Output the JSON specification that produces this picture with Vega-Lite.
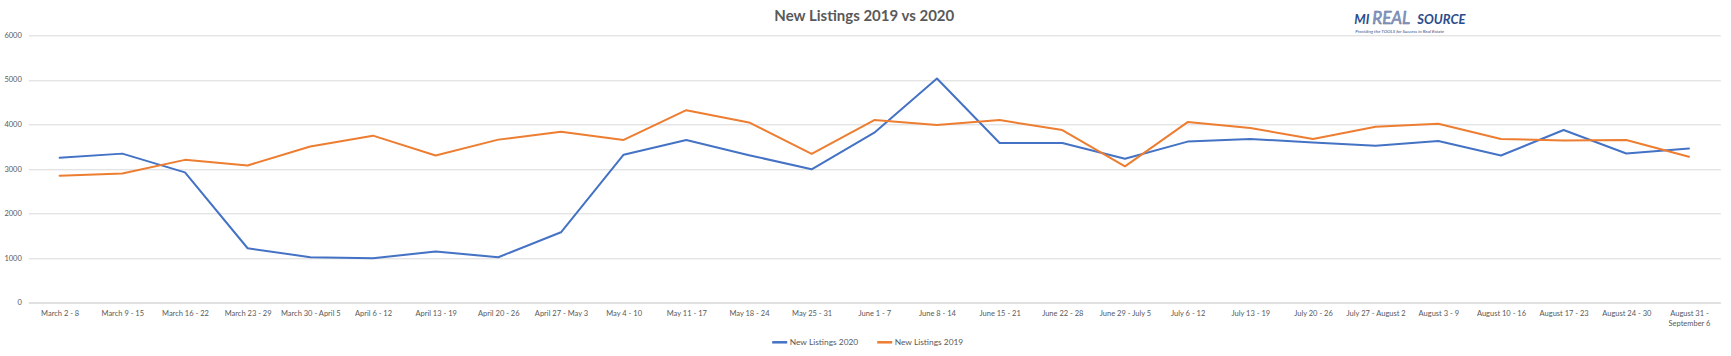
{
  "$schema": "https://vega.github.io/schema/vega-lite/v6.json",
  "width": 1692,
  "height": 267.4,
  "autosize": {"type": "none"},
  "padding": {"left": 28.3, "top": 35.3, "right": 10.7, "bottom": 53.3},
  "background": "white",
  "config": {"view": {"stroke": null}, "font": "Lato"},
  "title": {
    "text": "New Listings 2019 vs 2020",
    "anchor": "middle",
    "frame": "group",
    "fontSize": 15,
    "fontWeight": "bold",
    "font": "Lato",
    "color": "#595959",
    "offset": -14,
    "dx": -10
  },
  "datasets": {
    "listings": [
      {"week": "March 2 - 8", "New Listings 2020": 3255, "New Listings 2019": 2850},
      {"week": "March 9 - 15", "New Listings 2020": 3345, "New Listings 2019": 2900},
      {"week": "March 16 - 22", "New Listings 2020": 2925, "New Listings 2019": 3205},
      {"week": "March 23 - 29", "New Listings 2020": 1222, "New Listings 2019": 3080},
      {"week": "March 30 - April 5", "New Listings 2020": 1021, "New Listings 2019": 3504},
      {"week": "April 6 - 12", "New Listings 2020": 998, "New Listings 2019": 3748},
      {"week": "April 13 - 19", "New Listings 2020": 1148, "New Listings 2019": 3304},
      {"week": "April 20 - 26", "New Listings 2020": 1021, "New Listings 2019": 3659},
      {"week": "April 27 - May 3", "New Listings 2020": 1580, "New Listings 2019": 3837},
      {"week": "May 4 - 10", "New Listings 2020": 3321, "New Listings 2019": 3652},
      {"week": "May 11 - 17", "New Listings 2020": 3652, "New Listings 2019": 4319},
      {"week": "May 18 - 24", "New Listings 2020": 3310, "New Listings 2019": 4045},
      {"week": "May 25 - 31", "New Listings 2020": 2993, "New Listings 2019": 3340},
      {"week": "June 1 - 7", "New Listings 2020": 3815, "New Listings 2019": 4097},
      {"week": "June 8 - 14", "New Listings 2020": 5030, "New Listings 2019": 3985},
      {"week": "June 15 - 21", "New Listings 2020": 3585, "New Listings 2019": 4097},
      {"week": "June 22 - 28", "New Listings 2020": 3585, "New Listings 2019": 3874},
      {"week": "June 29 - July 5", "New Listings 2020": 3230, "New Listings 2019": 3060},
      {"week": "July 6 - 12", "New Listings 2020": 3615, "New Listings 2019": 4052},
      {"week": "July 13 - 19", "New Listings 2020": 3674, "New Listings 2019": 3919},
      {"week": "July 20 - 26", "New Listings 2020": 3593, "New Listings 2019": 3674},
      {"week": "July 27 - August 2", "New Listings 2020": 3519, "New Listings 2019": 3948},
      {"week": "August 3 - 9", "New Listings 2020": 3630, "New Listings 2019": 4015},
      {"week": "August 10 - 16", "New Listings 2020": 3304, "New Listings 2019": 3674},
      {"week": "August 17 - 23", "New Listings 2020": 3874, "New Listings 2019": 3637},
      {"week": "August 24 - 30", "New Listings 2020": 3348, "New Listings 2019": 3652},
      {"week": "August 31 - September 6", "New Listings 2020": 3459, "New Listings 2019": 3274}
    ],
    "logo": [
      {"part": "MI"},
      {"part": "REAL"},
      {"part": "SOURCE"},
      {"part": "Providing the TOOLS for Success in Real Estate"}
    ]
  },
  "layer": [
    {
      "data": {"name": "listings"},
      "transform": [{"fold": ["New Listings 2020", "New Listings 2019"], "as": ["series", "value"]}],
      "mark": {"type": "line", "strokeWidth": 2, "strokeCap": "round", "strokeJoin": "round"},
      "encoding": {
        "x": {
          "field": "week",
          "type": "ordinal",
          "sort": null,
          "scale": {
            "type": "point",
            "padding": 0.5,
            "domain": ["March 2 - 8", "March 9 - 15", "March 16 - 22", "March 23 - 29", "March 30 - April 5", "April 6 - 12", "April 13 - 19", "April 20 - 26", "April 27 - May 3", "May 4 - 10", "May 11 - 17", "May 18 - 24", "May 25 - 31", "June 1 - 7", "June 8 - 14", "June 15 - 21", "June 22 - 28", "June 29 - July 5", "July 6 - 12", "July 13 - 19", "July 20 - 26", "July 27 - August 2", "August 3 - 9", "August 10 - 16", "August 17 - 23", "August 24 - 30", "August 31 - September 6"]
          },
          "axis": {
            "title": null,
            "labelAngle": 0,
            "labelFontSize": 7.5,
            "labelColor": "#595959",
            "labelPadding": 7,
            "labelLimit": 0,
            "labelLineHeight": 10,
            "labelBaseline": "top",
            "ticks": false,
            "domain": true,
            "domainColor": "#d9d9d9",
            "domainWidth": 1,
            "grid": false,
            "labelExpr": "datum.value == 'August 31 - September 6' ? ['August 31 -', 'September 6'] : datum.value"
          }
        },
        "y": {
          "field": "value",
          "type": "quantitative",
          "scale": {"domain": [0, 6000], "nice": false, "zero": true},
          "axis": {
            "title": null,
            "values": [0, 1000, 2000, 3000, 4000, 5000, 6000],
            "format": "d",
            "labelFontSize": 7.5,
            "labelColor": "#595959",
            "labelPadding": 7,
            "ticks": false,
            "domain": false,
            "grid": true,
            "gridColor": "#d9d9d9",
            "gridWidth": 1
          }
        },
        "color": {
          "field": "series",
          "type": "nominal",
          "scale": {"domain": ["New Listings 2020", "New Listings 2019"], "range": ["#4472C4", "#ED7D31"]},
          "legend": {
            "title": null,
            "orient": "none",
            "legendX": 742.4,
            "legendY": 298,
            "direction": "horizontal",
            "symbolType": "stroke",
            "symbolSize": 225,
            "symbolStrokeWidth": 2.5,
            "labelFontSize": 8.4,
            "labelColor": "#595959",
            "labelOffset": 1,
            "columnPadding": 13
          }
        }
      }
    },
    {
      "data": {"name": "logo"},
      "transform": [{"filter": "datum.part == 'MI'"}],
      "mark": {"type": "text", "align": "left", "baseline": "alphabetic", "dx": -84, "fontSize": 13, "fontWeight": "bold", "fontStyle": "italic", "color": "#2B4C8C"},
      "encoding": {"x": {"datum": "August 3 - 9", "type": "ordinal"}, "y": {"datum": 6246, "type": "quantitative"}, "text": {"field": "part"}}
    },
    {
      "data": {"name": "logo"},
      "transform": [{"filter": "datum.part == 'REAL'"}],
      "mark": {"type": "text", "align": "left", "baseline": "alphabetic", "dx": -66, "fontSize": 17, "fontStyle": "italic", "color": "#8B9CC4", "stroke": "#5B6F9E", "strokeWidth": 0.5},
      "encoding": {"x": {"datum": "August 3 - 9", "type": "ordinal"}, "y": {"datum": 6246, "type": "quantitative"}, "text": {"field": "part"}}
    },
    {
      "data": {"name": "logo"},
      "transform": [{"filter": "datum.part == 'SOURCE'"}],
      "mark": {"type": "text", "align": "left", "baseline": "alphabetic", "dx": -21, "fontSize": 13, "fontWeight": "bold", "fontStyle": "italic", "color": "#2B4C8C"},
      "encoding": {"x": {"datum": "August 3 - 9", "type": "ordinal"}, "y": {"datum": 6246, "type": "quantitative"}, "text": {"field": "part"}}
    },
    {
      "data": {"name": "logo"},
      "transform": [{"filter": "datum.part == 'Providing the TOOLS for Success in Real Estate'"}],
      "mark": {"type": "text", "align": "left", "baseline": "alphabetic", "dx": -83, "fontSize": 4.6, "fontStyle": "italic", "color": "#2B4C8C"},
      "encoding": {"x": {"datum": "August 3 - 9", "type": "ordinal"}, "y": {"datum": 6062, "type": "quantitative"}, "text": {"field": "part"}}
    }
  ]
}
